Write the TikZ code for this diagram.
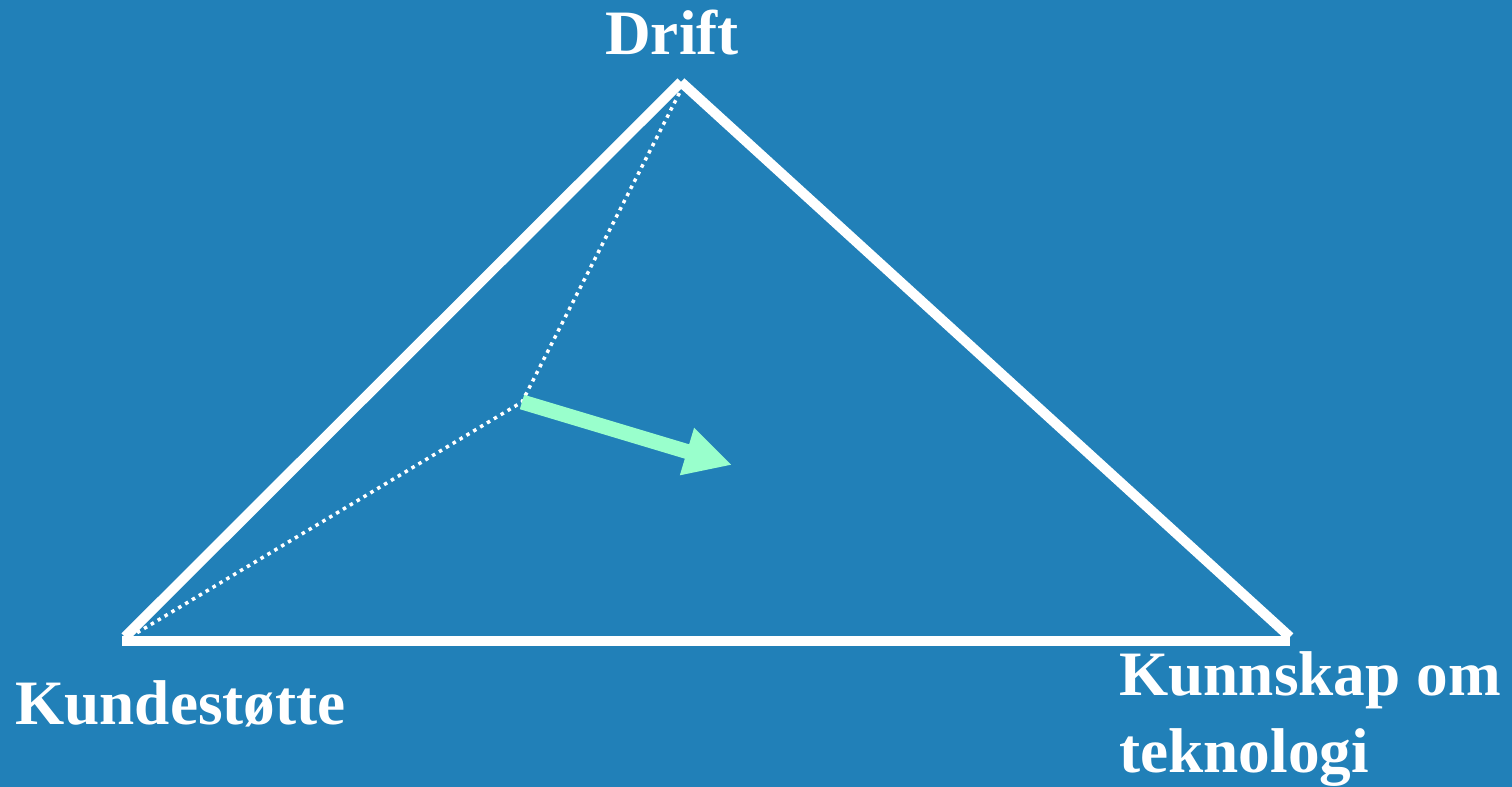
\documentclass[tikz,border=0pt]{standalone}
\usepackage{fontspec}
\setmainfont{Liberation Serif}
\usetikzlibrary{arrows.meta}
\definecolor{slidebg}{RGB}{33,128,184}
\definecolor{mint}{RGB}{153,255,204}
\begin{document}
\begin{tikzpicture}[x=0.02cm,y=-0.02cm]
	\tikzset{side/.style={draw=white,line width=0.2cm},
	         guide/.style={draw=white,line width=0.07cm,dash pattern=on 0.07cm off 0.09cm},
	         push/.style={draw=mint,line width=0.3cm,-{Triangle[length=0.94cm,width=0.92cm]}},
	         lbl/.style={text=white,inner sep=0pt,font=\bfseries\fontsize{36}{43.5}\selectfont}}
	\fill[slidebg] (0,0) rectangle (1512,787);
	\useasboundingbox (0,0) rectangle (1512,787);
	\coordinate (tl) at (125,637);
	\coordinate (ta) at (681,82);
	\coordinate (tr) at (1290,637);
	\coordinate (bl) at (122,641);
	\coordinate (br) at (1290,641);
	\coordinate (p) at (522,402);
	\coordinate (q) at (732,465);
	\draw[side] (tl)--(ta);
	\draw[side] (ta)--(tr);
	\draw[side] (bl)--(br);
	\draw[guide] (683,86)--(p)--(135,634);
	\draw[push] (p)--(q);
	\node[lbl,anchor=base] (drift) at (672,55) {Drift};
	\node[lbl,anchor=base west] (kunde) at (15,724) {Kundestøtte};
	\node[lbl,anchor=base west,align=left] (tekno) at (1119,772) {Kunnskap om\\teknologi};
\end{tikzpicture}
\end{document}
